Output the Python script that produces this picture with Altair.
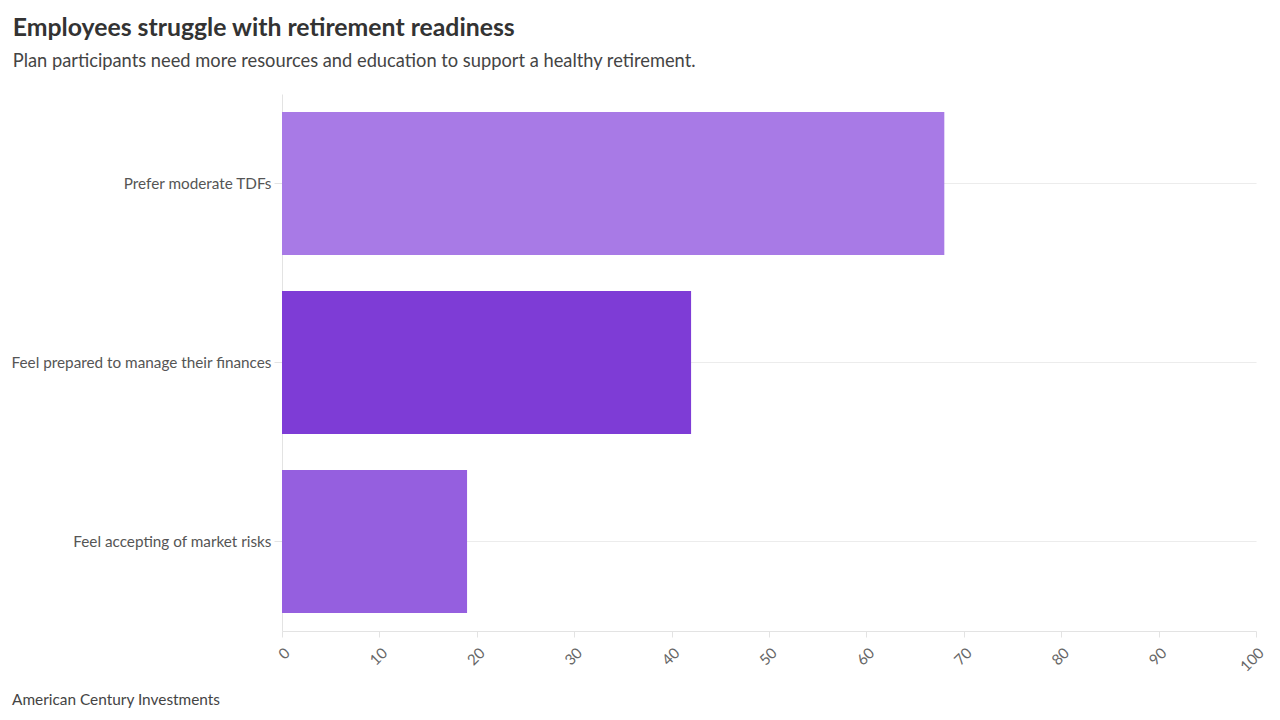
import altair as alt
import pandas as pd

categories = ["Prefer moderate TDFs", "Feel prepared to manage their finances", "Feel accepting of market risks"]
values = [68, 42, 19]
colors = ["#a87ae6", "#7e3cd6", "#955fdf"]
x_ticks = [0, 10, 20, 30, 40, 50, 60, 70, 80, 90, 100]
footer_text = "American Century Investments"

df = pd.DataFrame({"category": categories, "value": values, "color": colors})

FONT = "Lato"

bars = alt.Chart(df).mark_bar().encode(
    y=alt.Y("category:N", sort=categories, title=None,
            scale=alt.Scale(paddingInner=0.2, paddingOuter=0.1),
            axis=alt.Axis(grid=True, gridColor="#ececec", gridWidth=1.2,
                          domain=True, domainColor="#e3e3e3",
                          ticks=True, tickColor="#e3e3e3", tickSize=8,
                          labelPadding=3, labelFontSize=15.3, labelColor="#555555",
                          labelFont=FONT, labelLimit=400)),
    x=alt.X("value:Q", title=None,
            scale=alt.Scale(domain=[0, 100]),
            axis=alt.Axis(values=x_ticks, grid=False, labelAngle=-45,
                          domainColor="#e3e3e3", tickColor="#e3e3e3", tickSize=6,
                          labelFontSize=15, labelColor="#666666", labelFont=FONT,
                          labelPadding=8)),
    color=alt.Color("color:N", scale=None),
)

footer = alt.Chart(pd.DataFrame({"t": [footer_text]})).mark_text(
    align="left", baseline="alphabetic", font=FONT, fontSize=15.4, color="#444444"
).encode(
    text="t:N",
    x=alt.value(-270),
    y=alt.value(611),
)

chart = alt.layer(bars, footer).properties(
    width=974,
    height=537,
    title=alt.TitleParams(
        text="Employees struggle with retirement readiness",
        subtitle="Plan participants need more resources and education to support a healthy retirement.",
        anchor="start",
        frame="bounds",
        dx=2,
        font=FONT,
        fontSize=24.8,
        fontWeight="bold",
        color="#333333",
        subtitleFont=FONT,
        subtitleFontSize=18.3,
        subtitleColor="#444444",
        subtitlePadding=12,
        offset=24,
    ),
).configure(
    padding={"left": 2, "top": 7, "right": 5, "bottom": 5}
).configure_view(stroke=None)

chart.save("out.html", embed_options={"renderer": "svg", "actions": False})
